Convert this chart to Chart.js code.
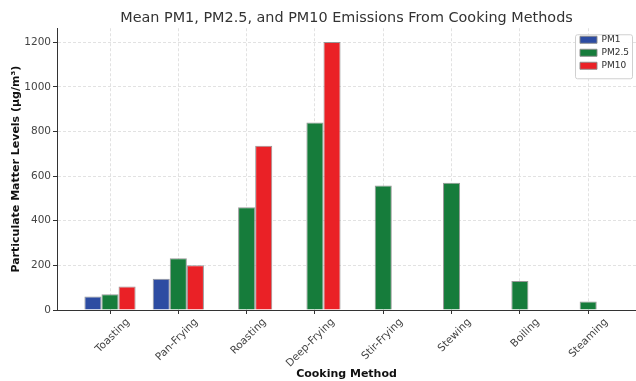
<!DOCTYPE html>
<html>
<head>
<meta charset="utf-8">
<script src="https://cdn.jsdelivr.net/npm/chart.js@4.4.1/dist/chart.umd.min.js"></script>
<style>
    html, body { margin: 0; padding: 0; background: #fff; overflow: hidden; }
    #wrap { width: 636px; height: 381px; position: relative; }
</style>
</head>
<body>
<div id="wrap"><canvas id="chart"></canvas></div>
<script>
// cooking methods along the x axis
const methods = ['Toasting', 'Pan-Frying', 'Roasting', 'Deep-Frying', 'Stir-Frying', 'Stewing', 'Boiling', 'Steaming'];
// mean emissions in µg/m³ (0 where the method has no bar)
const pm1 = [60, 140, 0, 0, 0, 0, 0, 0];
const pm25 = [70, 232, 460, 840, 558, 570, 130, 38];
const pm10 = [105, 200, 736, 1200, 0, 0, 0, 0];
const yTicks = [0, 200, 400, 600, 800, 1000, 1200];

const toPoints = arr => arr.map((v, i) => ({ x: i, y: v }));

// draws the framed legend box on top of everything, top right of the plot
const legendBox = {
    id: 'legendBox',
    afterLayout(chart) {
        const lg = chart.legend;
        const area = chart.chartArea;
        lg.left = area.right - 60;
        lg.right = lg.left + lg.width;
        lg.top = area.top + 3;
        lg.bottom = lg.top + lg.height;
    },
    afterDraw(chart) {
        const ctx = chart.ctx;
        const area = chart.chartArea;
        const x = area.right - 61, y = area.top + 6, w = 57, h = 44;
        ctx.save();
        ctx.fillStyle = 'rgba(255,255,255,0.9)';
        ctx.strokeStyle = '#d0d0d0';
        ctx.lineWidth = 1;
        ctx.beginPath();
        ctx.roundRect(x + 0.5, y + 0.5, w, h, 2);
        ctx.fill();
        ctx.stroke();
        ctx.restore();
        chart.legend.draw();
    }
};

const ctx = document.getElementById('chart').getContext('2d');
new Chart(ctx, {
    type: 'bar',
    data: {
        datasets: [
            { label: 'PM1', data: toPoints(pm1), backgroundColor: '#2d4ca2', borderColor: 'rgba(140,140,140,0.9)', borderWidth: 1 },
            { label: 'PM2.5', data: toPoints(pm25), backgroundColor: '#167c3b', borderColor: 'rgba(140,140,140,0.9)', borderWidth: 1 },
            { label: 'PM10', data: toPoints(pm10), backgroundColor: '#ea2126', borderColor: 'rgba(140,140,140,0.9)', borderWidth: 1 }
        ]
    },
    options: {
        responsive: true,
        maintainAspectRatio: false,
        animation: false,
        devicePixelRatio: 1,
        layout: { padding: { left: 0, right: 0, top: 0, bottom: 0 } },
        datasets: { bar: { categoryPercentage: 0.75, barPercentage: 1 } },
        plugins: {
            title: {
                display: true,
                fullSize: false,
                text: 'Mean PM1, PM2.5, and PM10 Emissions From Cooking Methods',
                color: '#333',
                font: { family: 'DejaVu Sans', size: 14.4, weight: 'normal' },
                padding: { top: 10, bottom: 1 }
            },
            legend: {
                position: 'chartArea',
                align: 'start',
                labels: {
                    boxWidth: 17,
                    boxHeight: 7,
                    padding: 4,
                    color: '#333',
                    font: { family: 'DejaVu Sans', size: 9 }
                }
            },
            tooltip: { enabled: false }
        },
        scales: {
            x: {
                type: 'linear',
                offset: false,
                min: -0.776,
                max: 7.7,
                afterBuildTicks: scale => { scale.ticks = methods.map((m, i) => ({ value: i })); },
                afterFit: scale => { scale.height = 71; },
                ticks: {
                    autoSkip: false,
                    minRotation: 45,
                    maxRotation: 45,
                    labelOffset: 18,
                    padding: 2,
                    color: '#444',
                    font: { family: 'DejaVu Sans', size: 10.5 },
                    callback: v => methods[v]
                },
                grid: { offset: false, color: '#e2e2e2', tickColor: '#333', tickLength: 4, tickBorderDash: [] },
                border: { color: '#333', width: 1, dash: [3, 2] },
                title: {
                    display: true,
                    text: 'Cooking Method',
                    color: '#111',
                    font: { family: 'DejaVu Sans', size: 11, weight: 'bold' },
                    padding: { top: 0, bottom: 0 }
                }
            },
            y: {
                min: 0,
                max: 1262,
                afterBuildTicks: scale => { scale.ticks = yTicks.map(v => ({ value: v })); },
                afterFit: scale => { scale.width = 57; },
                ticks: {
                    padding: 2,
                    color: '#444',
                    font: { family: 'DejaVu Sans', size: 10.5 },
                    callback: v => String(v)
                },
                grid: { color: '#e2e2e2', tickColor: '#333', tickLength: 4, tickBorderDash: [] },
                border: { color: '#333', width: 1, dash: [3, 2] },
                title: {
                    display: true,
                    text: 'Particulate Matter Levels (µg/m³)',
                    color: '#111',
                    font: { family: 'DejaVu Sans', size: 11, weight: 'bold' },
                    padding: { top: 10, bottom: 4 }
                }
            }
        }
    },
    plugins: [legendBox]
});
</script>
</body>
</html>
